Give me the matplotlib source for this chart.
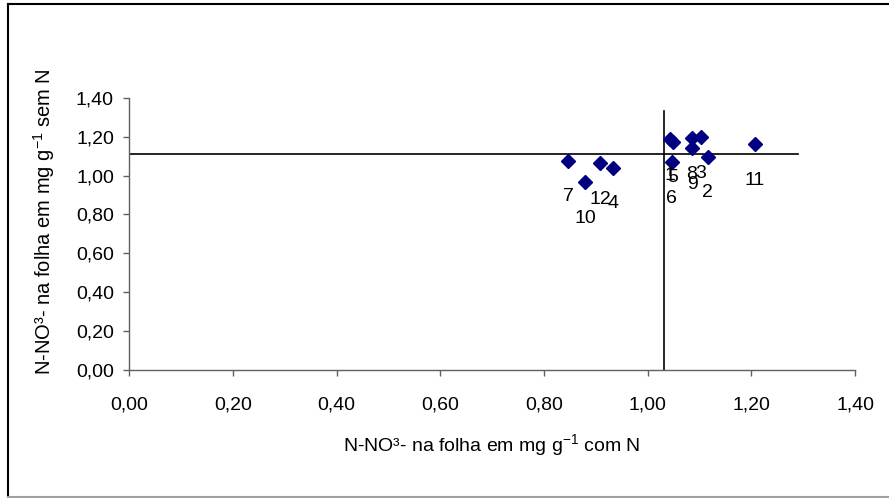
import matplotlib
matplotlib.use('Agg')
from matplotlib import pyplot as plt
from matplotlib.ticker import FuncFormatter, MultipleLocator
from matplotlib.lines import Line2D

plt.rcParams['font.family'] = ['Liberation Sans', 'DejaVu Sans']
plt.rcParams['mathtext.default'] = 'regular'

# N-NO3 na folha, com N (x) e sem N (y)
labels = ['1', '2', '3', '4', '5', '6', '7', '8', '9', '10', '11', '12']
com_n = [1.043, 1.116, 1.102, 0.934, 1.049, 1.046, 0.847, 1.085, 1.086, 0.880, 1.207, 0.908]
sem_n = [1.186, 1.097, 1.196, 1.040, 1.174, 1.068, 1.076, 1.191, 1.140, 0.965, 1.162, 1.063]

# linhas de referencia (medias)
ref_x = 1.031
ref_y = 1.109
vline_top = 1.333
hline_end = 1.290

fig = plt.figure(figsize=(8.89, 4.98), dpi=100)
ax = fig.add_axes([0.1454, 0.257, 0.8164, 0.5468])

ax.plot(com_n, sem_n, linestyle='none', marker='D', markersize=7.5,
        color='#000080', markeredgecolor='#000080', zorder=3)
for lab, x, y in zip(labels, com_n, sem_n):
    ax.annotate(lab, (x, y), xytext=(0, -26), textcoords='offset points',
                ha='center', va='center', fontsize=14, color='black')

ax.plot([0, hline_end], [ref_y, ref_y], color='black', lw=1.2, zorder=2)
ax.plot([ref_x, ref_x], [0, vline_top], color='black', lw=1.2, zorder=2)

ax.set_xlim(0, 1.4)
ax.set_ylim(0, 1.4)
ax.xaxis.set_major_locator(MultipleLocator(0.2))
ax.yaxis.set_major_locator(MultipleLocator(0.2))
fmt = FuncFormatter(lambda v, p: ('%.2f' % v).replace('.', ','))
ax.xaxis.set_major_formatter(fmt)
ax.yaxis.set_major_formatter(fmt)
for s in ['top', 'right']:
    ax.spines[s].set_visible(False)
for s in ['left', 'bottom']:
    ax.spines[s].set_color('#606060')
    ax.spines[s].set_linewidth(1)
ax.tick_params(direction='out', length=4, width=1, color='#606060',
               labelsize=14)
ax.tick_params(axis='x', pad=15)
ax.tick_params(axis='y', pad=7)
ax.patch.set_alpha(0)

fig.text(0.553, 0.106, 'N-NO³- na folha em mg g$^{-1}$ com N',
         ha='center', va='center', fontsize=14)
fig.text(0.05, 0.556, 'N-NO³- na folha em mg g$^{-1}$ sem N',
         ha='center', va='center', fontsize=14.5, rotation=90)

# moldura
fig.add_artist(Line2D([8/889, 8/889], [1/498, 494/498], color='black', lw=1.5,
                      transform=fig.transFigure))
fig.add_artist(Line2D([8/889, 1], [494/498, 494/498], color='black', lw=1.5,
                      transform=fig.transFigure))
fig.add_artist(Line2D([8/889, 1], [1/498, 1/498], color='#a0a0a0', lw=1.5,
                      transform=fig.transFigure))

fig.savefig('out.png', dpi=100)
